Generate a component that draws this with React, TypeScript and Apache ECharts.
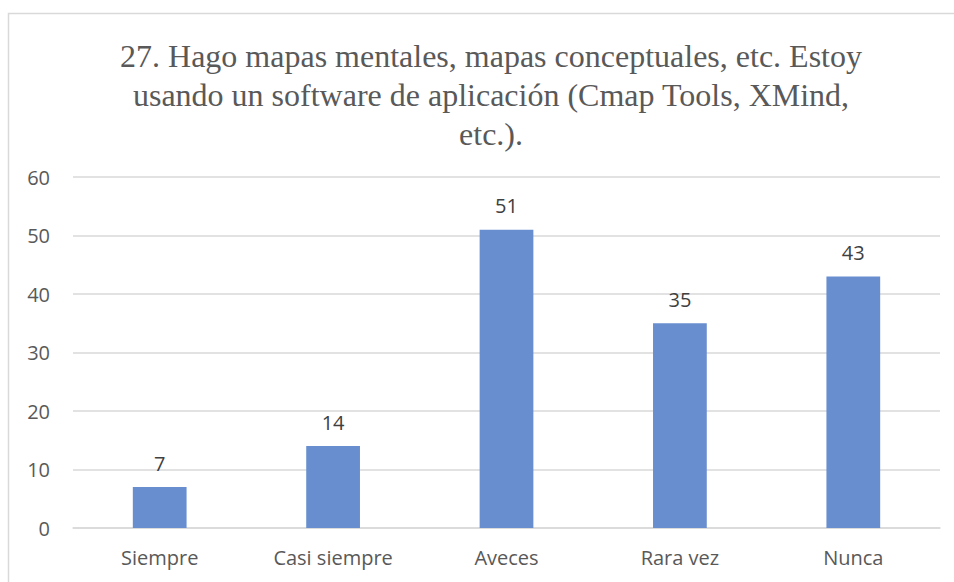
import React, { useEffect, useRef } from "react";
import * as echarts from "echarts";

const titleText = "27. Hago mapas mentales, mapas conceptuales, etc. Estoy\nusando un software de aplicación (Cmap Tools, XMind,\netc.).";
const categories = ["Siempre", "Casi siempre", "Aveces", "Rara vez", "Nunca"];
const values = [7, 14, 51, 35, 43];
const yTicks = { min: 0, max: 60, interval: 10 };

export default function App() {
  const ref = useRef<HTMLDivElement>(null);
  useEffect(() => {
    if (!ref.current) return;
    const chart = echarts.init(ref.current, null, { renderer: "svg" });
    const sans = "Open Sans";
    chart.setOption({
      animation: false,
      backgroundColor: "#ffffff",
      title: {
        text: titleText,
        left: 486,
        textAlign: "center",
        top: 31,
        textStyle: {
          fontFamily: "Liberation Serif",
          fontWeight: "normal",
          fontSize: 32,
          lineHeight: 39,
          color: "#595959",
        },
      },
      graphic: [
        {
          type: "rect",
          shape: { x: 8.5, y: 13.5, width: 1000, height: 1000 },
          style: { fill: "none", stroke: "#d9d9d9", lineWidth: 1.5 },
          silent: true,
        },
      ],
      grid: { left: 73, right: 14, top: 177, bottom: 54, containLabel: false },
      xAxis: {
        type: "category",
        data: categories,
        axisLine: { show: true, lineStyle: { color: "#d9d9d9", width: 1.5 } },
        axisTick: { show: false },
        axisLabel: { color: "#595959", fontSize: 20, fontFamily: sans, margin: 19 },
      },
      yAxis: {
        type: "value",
        min: yTicks.min,
        max: yTicks.max,
        interval: yTicks.interval,
        axisLine: { show: false },
        axisTick: { show: false },
        splitLine: { lineStyle: { color: "#d9d9d9", width: 1.5 } },
        axisLabel: { color: "#595959", fontSize: 20, fontFamily: sans, margin: 23 },
      },
      series: [
        {
          type: "bar",
          data: values,
          barWidth: "31%",
          itemStyle: { color: "#698ed0" },
          label: {
            show: true,
            position: "top",
            distance: 14,
            color: "#404040",
            fontSize: 20,
            fontFamily: sans,
          },
        },
      ],
    });
    return () => chart.dispose();
  }, []);
  return (
    <div
      ref={ref}
      style={{ position: "absolute", left: 0, top: 0, width: 954, height: 582 }}
    />
  );
}
